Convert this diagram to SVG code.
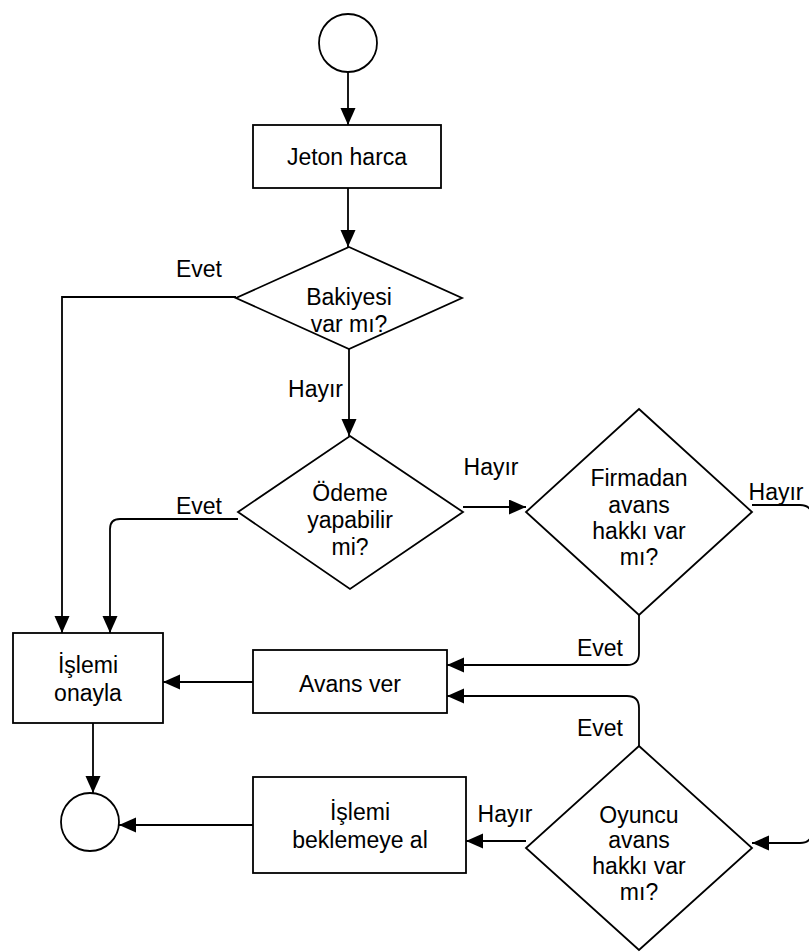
<svg xmlns="http://www.w3.org/2000/svg" width="809" height="952" viewBox="0 0 809 952">
  <style>
    .shape { fill: #ffffff; stroke: #000000; stroke-width: 1.8; }
    .edge { fill: none; stroke: #000000; stroke-width: 1.8; }
    text { font-family: "Liberation Sans", Arial, sans-serif; font-size: 23px; fill: #000000; }
    .c { text-anchor: middle; }
  </style>
  <defs>
    <marker id="arrow" markerUnits="userSpaceOnUse" markerWidth="18" markerHeight="16" refX="17" refY="7.5" orient="auto">
      <path d="M0,0 L17,7.5 L0,15 Z" fill="#000000"/>
    </marker>
  </defs>

  <!-- connectors -->
  <g id="edges" class="edges">
    <path class="edge" d="M348,72 V125" marker-end="url(#arrow)"/>
    <path class="edge" d="M348,188 V247" marker-end="url(#arrow)"/>
    <path class="edge" d="M236,297 H62 V633" marker-end="url(#arrow)"/>
    <path class="edge" d="M349,349 V436" marker-end="url(#arrow)"/>
    <path class="edge" d="M238,519 H120 Q110,519 110,529 V633" marker-end="url(#arrow)"/>
    <path class="edge" d="M463,507 H526" marker-end="url(#arrow)"/>
    <path class="edge" d="M752,505 H800 Q812,505 812,517 V831 Q812,843 800,843 H752" marker-end="url(#arrow)"/>
    <path class="edge" d="M639,615 V653 Q639,665 627,665 H447" marker-end="url(#arrow)"/>
    <path class="edge" d="M639,746 V708 Q639,696 627,696 H447" marker-end="url(#arrow)"/>
    <path class="edge" d="M253,682 H163" marker-end="url(#arrow)"/>
    <path class="edge" d="M526,841 H466" marker-end="url(#arrow)"/>
    <path class="edge" d="M253,825 H119" marker-end="url(#arrow)"/>
    <path class="edge" d="M93,723 V793" marker-end="url(#arrow)"/>
    <!-- edge labels -->
    <text class="c" x="199" y="277">Evet</text>
    <text x="343" y="397" text-anchor="end">Hayır</text>
    <text class="c" x="199" y="514">Evet</text>
    <text class="c" x="491" y="475">Hayır</text>
    <text class="c" x="776" y="500">Hayır</text>
    <text class="c" x="600" y="656">Evet</text>
    <text class="c" x="600" y="736">Evet</text>
    <text class="c" x="505" y="822">Hayır</text>
  </g>

  <!-- nodes -->
  <g id="start">
    <circle class="shape" cx="348" cy="43" r="29"/>
  </g>
  <g id="jeton-harca">
    <rect class="shape" x="253" y="125" width="188" height="63"/>
    <text class="c" x="347" y="165">Jeton harca</text>
  </g>
  <g id="bakiyesi-var-mi">
    <polygon class="shape" points="349,247 462,298 349,349 236,298"/>
    <text class="c" x="349" y="305">Bakiyesi</text>
    <text class="c" x="349" y="332">var mı?</text>
  </g>
  <g id="odeme-yapabilir-mi">
    <polygon class="shape" points="350,436 463,512 350,589 238,512"/>
    <text class="c" x="350" y="501">Ödeme</text>
    <text class="c" x="350" y="528">yapabilir</text>
    <text class="c" x="350" y="555">mi?</text>
  </g>
  <g id="firmadan-avans">
    <polygon class="shape" points="639,409 752,512 639,615 526,512"/>
    <text class="c" x="639" y="486">Firmadan</text>
    <text class="c" x="639" y="513">avans</text>
    <text class="c" x="639" y="539">hakkı var</text>
    <text class="c" x="639" y="565">mı?</text>
  </g>
  <g id="islemi-onayla">
    <rect class="shape" x="13" y="633" width="150" height="90"/>
    <text class="c" x="88" y="673">İşlemi</text>
    <text class="c" x="88" y="701">onayla</text>
  </g>
  <g id="avans-ver">
    <rect class="shape" x="253" y="650" width="194" height="63"/>
    <text class="c" x="350" y="692">Avans ver</text>
  </g>
  <g id="oyuncu-avans">
    <polygon class="shape" points="639,746 752,848 639,950 526,848"/>
    <text class="c" x="639" y="823">Oyuncu</text>
    <text class="c" x="639" y="848">avans</text>
    <text class="c" x="639" y="874">hakkı var</text>
    <text class="c" x="639" y="900">mı?</text>
  </g>
  <g id="islemi-beklemeye-al">
    <rect class="shape" x="253" y="777" width="213" height="96"/>
    <text class="c" x="360" y="820">İşlemi</text>
    <text class="c" x="360" y="848">beklemeye al</text>
  </g>
  <g id="end">
    <circle class="shape" cx="90" cy="822" r="29"/>
  </g>
</svg>
